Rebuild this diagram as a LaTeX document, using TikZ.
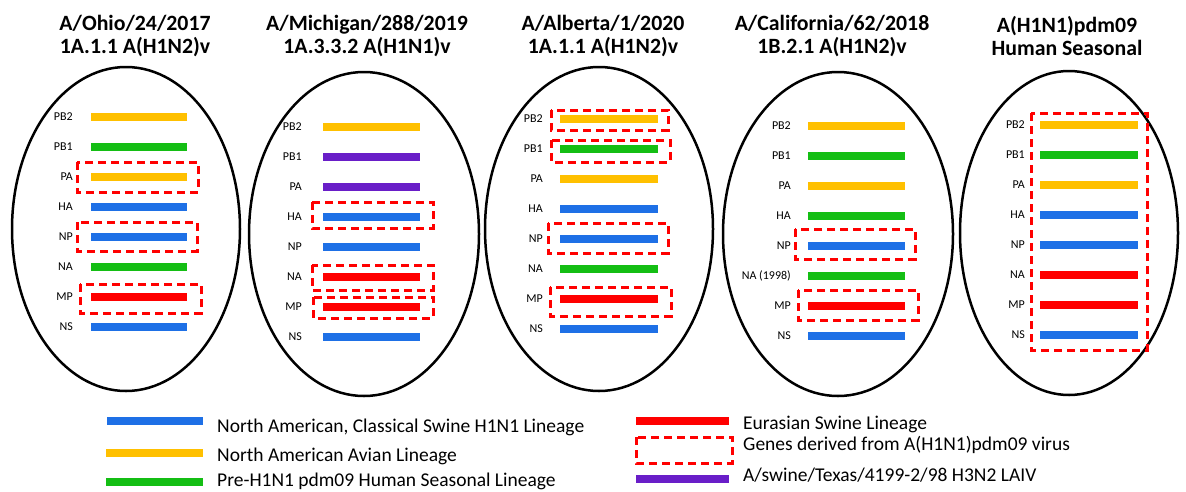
\documentclass[tikz,border=0pt]{standalone}
\usepackage{fontspec}
\setmainfont{Carlito}
\usetikzlibrary{shapes.geometric}
\definecolor{swblue}{RGB}{30,112,230}
\definecolor{avyellow}{RGB}{255,192,0}
\definecolor{hsgreen}{RGB}{20,190,20}
\definecolor{eured}{RGB}{255,0,0}
\definecolor{laivpurple}{RGB}{105,30,200}

\begin{document}
\begin{tikzpicture}[x=1pt,y=-1pt,
  virus/.style={ellipse,draw,line width=2.5pt,minimum width=228pt,minimum height=324pt,inner sep=0pt},
  strain/.style={font=\fontsize{21.8}{23}\selectfont\bfseries,align=center},
  gene/.style={font=\fontsize{12}{13}\selectfont,anchor=east,inner sep=0pt},
  segment/.style={line width=8pt},
  pdmbox/.style={draw=eured,line width=3pt,dash pattern=on 8pt off 5pt},
  key/.style={font=\fontsize{19.5}{21}\selectfont,anchor=base west,inner sep=0pt}]
  \useasboundingbox (0,0) rectangle (1186,491);

  % strains
  \node[strain] (t1) at (135,36) {A/Ohio/24/2017\\1A.1.1 A(H1N2)v};
  \node[strain] (t2) at (367,36) {A/Michigan/288/2019\\1A.3.3.2 A(H1N1)v};
  \node[strain] (t3) at (603,36) {A/Alberta/1/2020\\1A.1.1 A(H1N2)v};
  \node[strain] (t4) at (832,36) {A/California/62/2018\\1B.2.1 A(H1N2)v};
  \node[strain] (t5) at (1067,36) {A(H1N1)pdm09\\Human Seasonal};

  \node[virus] (e1) at (126,229) {};
  \node[virus,minimum width=230pt] (e2) at (364,234) {};
  \node[virus] (e3) at (599,229) {};
  \node[virus,minimum width=230pt] (e4) at (838,234) {};
  \node[virus,minimum width=218pt] (e5) at (1069,233) {};

  % gene segments
  \foreach \g/\c [count=\i from 0] in {PB2/avyellow,PB1/hsgreen,PA/avyellow,HA/swblue,NP/swblue,NA/hsgreen,MP/eured,NS/swblue}{
    \draw[segment,\c] (91,117+30*\i) -- (187,117+30*\i);
    \node[gene] (g1-\i) at (73,117+30*\i) {\g};
  }
  \foreach \g/\c [count=\i from 0] in {PB2/avyellow,PB1/laivpurple,PA/laivpurple,HA/swblue,NP/swblue,NA/eured,MP/eured,NS/swblue}{
    \draw[segment,\c] (323,127+30*\i) -- (420,127+30*\i);
    \node[gene] (g2-\i) at (302,127+30*\i) {\g};
  }
  \foreach \g/\c [count=\i from 0] in {PB2/avyellow,PB1/hsgreen,PA/avyellow,HA/swblue,NP/swblue,NA/hsgreen,MP/eured,NS/swblue}{
    \draw[segment,\c] (560,119+30*\i) -- (658,119+30*\i);
    \node[gene] (g3-\i) at (543,119+30*\i) {\g};
  }
  \foreach \g/\c [count=\i from 0] in {PB2/avyellow,PB1/hsgreen,PA/avyellow,HA/hsgreen,NP/swblue,NA (1998)/hsgreen,MP/eured,NS/swblue}{
    \draw[segment,\c] (808,126+30*\i) -- (905,126+30*\i);
    \node[gene] (g4-\i) at (791,126+30*\i) {\g};
  }
  \foreach \g/\c [count=\i from 0] in {PB2/avyellow,PB1/hsgreen,PA/avyellow,HA/swblue,NP/swblue,NA/eured,MP/eured,NS/swblue}{
    \draw[segment,\c] (1040,125+30*\i) -- (1138,125+30*\i);
    \node[gene] (g5-\i) at (1025,125+30*\i) {\g};
  }

  % pdm09 genes
  \draw[pdmbox] (77,162) rectangle (198,192);
  \draw[pdmbox] (77,222) rectangle (197,251);
  \draw[pdmbox] (80,284) rectangle (201,313);
  \draw[pdmbox] (312,202) rectangle (433,228);
  \draw[pdmbox] (312,265) rectangle (433,290);
  \draw[pdmbox] (313,297) rectangle (433,318);
  \draw[pdmbox] (551,110) rectangle (668,130);
  \draw[pdmbox] (551,140) rectangle (670,162);
  \draw[pdmbox] (548,223) rectangle (668,253);
  \draw[pdmbox] (550,287) rectangle (671,316);
  \draw[pdmbox] (795,229) rectangle (915,259);
  \draw[pdmbox] (798,290) rectangle (918,320);
  \draw[pdmbox] (1031,113) rectangle (1147,350);

  % legend
  \draw[segment,swblue] (107,421) -- (203,421);
  \node[key] (k1) at (217,432) {North American, Classical Swine H1N1 Lineage};
  \draw[segment,avyellow] (106,453) -- (203,453);
  \node[key] (k2) at (217,461) {North American Avian Lineage};
  \draw[segment,hsgreen] (106,482) -- (203,482);
  \node[key] (k3) at (217,486) {Pre-H1N1 pdm09 Human Seasonal Lineage};
  \draw[segment,eured] (636,421) -- (729,421);
  \node[key] (k4) at (743,429) {Eurasian Swine Lineage};
  \draw[pdmbox] (636,437) rectangle (732,463);
  \node[key] (k5) at (743,450) {Genes derived from A(H1N1)pdm09 virus};
  \draw[segment,laivpurple] (636,479) -- (729,479);
  \node[key] (k6) at (743,481) {A/swine/Texas/4199-2/98 H3N2 LAIV};
\end{tikzpicture}
\end{document}
